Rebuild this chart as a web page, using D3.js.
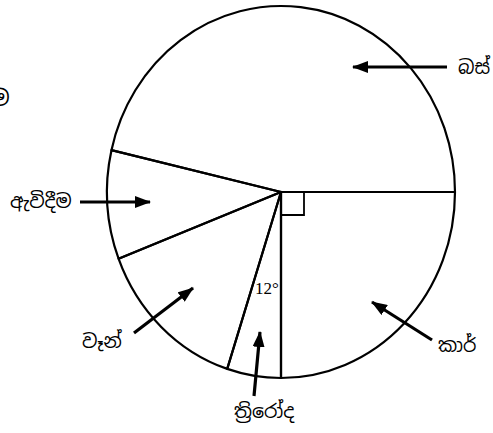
<!DOCTYPE html>
<html>
<head>
<meta charset="utf-8">
<script src="https://cdn.jsdelivr.net/npm/d3@7"></script>
<style>
  body { margin: 0; background: #fff; }
  text { font-family: "Noto Sans", "Noto Sans Sinhala", "DejaVu Sans", sans-serif; }
</style>
</head>
<body>
<svg id="chart"></svg>
<script>
// Slice names and their angles (degrees), clockwise from 3 o'clock
const categories = ["කාර්", "ත්‍රිරෝද", "වෑන්", "ඇවිදීම", "බස්"];
const angles = [90, 18, 51, 34, 167];

// Label placement: text anchor point, arrow start and arrow tip
const labelLayout = [
    { text: [438, 352], from: [432, 340], to: [372, 302] },
    { text: [234, 418], from: [254, 396], to: [260, 332] },
    { text: [82, 348], from: [134, 333], to: [193, 288] },
    { text: [10, 208], from: [80, 202], to: [150, 202] },
    { text: [458, 74], from: [447, 67], to: [353, 67] }
];

const width = 493, height = 433;
const cx = 281, cy = 192, rx = 174, ry = 186;

const svg = d3.select("#chart")
    .attr("width", width)
    .attr("height", height);

svg.append("defs").append("marker")
    .attr("id", "head")
    .attr("markerUnits", "userSpaceOnUse")
    .attr("viewBox", "0 0 16 12")
    .attr("refX", 15)
    .attr("refY", 6)
    .attr("markerWidth", 16)
    .attr("markerHeight", 12)
    .attr("orient", "auto")
    .append("path")
    .attr("d", "M0,0 L16,6 L0,12 Z")
    .attr("fill", "#000");

// Pie starting at 3 o'clock, going clockwise
const pie = d3.pie()
    .sort(null)
    .value(d => d)
    .startAngle(Math.PI / 2)
    .endAngle(Math.PI / 2 + 2 * Math.PI);

const arc = d3.arc().innerRadius(0).outerRadius(ry);

const g = svg.append("g")
    .attr("transform", "translate(" + cx + "," + cy + ") scale(" + (rx / ry) + ",1)");

g.selectAll("path")
    .data(pie(angles))
    .enter().append("path")
    .attr("d", arc)
    .attr("fill", "none")
    .attr("stroke", "#000")
    .attr("stroke-width", 2.2)
    .attr("stroke-linejoin", "round")
    .attr("vector-effect", "non-scaling-stroke");

// Right angle mark for the car slice
svg.append("path")
    .attr("d", "M" + cx + "," + (cy + 23) + " H" + (cx + 23) + " V" + cy)
    .attr("fill", "none")
    .attr("stroke", "#000")
    .attr("stroke-width", 1.8);

// Angle label for the three-wheeler slice
svg.append("text")
    .attr("x", 255)
    .attr("y", 294)
    .style("font-family", "'Liberation Serif', serif")
    .style("font-size", "17px")
    .text("12°");

// Arrows and labels
svg.selectAll(".arrow")
    .data(labelLayout)
    .enter().append("line")
    .attr("class", "arrow")
    .attr("x1", d => d.from[0])
    .attr("y1", d => d.from[1])
    .attr("x2", d => d.to[0])
    .attr("y2", d => d.to[1])
    .attr("stroke", "#000")
    .attr("stroke-width", 3.2)
    .attr("marker-end", "url(#head)");

svg.selectAll(".label")
    .data(labelLayout)
    .enter().append("text")
    .attr("class", "label")
    .attr("x", d => d.text[0])
    .attr("y", d => d.text[1])
    .style("font-size", "19px")
    .text((d, i) => categories[i]);

// cut-off character at the left edge of the scan
svg.append("text")
    .attr("x", -9)
    .attr("y", 106)
    .style("font-size", "22px")
    .text("ම");
</script>
</body>
</html>
